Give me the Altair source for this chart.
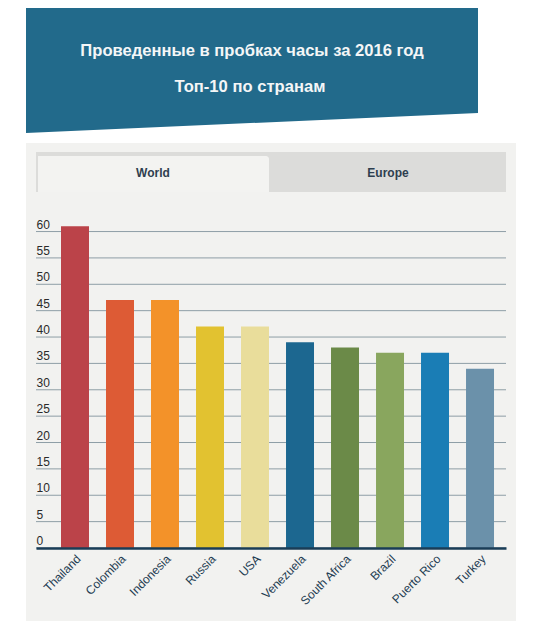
import altair as alt
import pandas as pd

# ---- data ----
countries = ["Thailand", "Colombia", "Indonesia", "Russia", "USA",
             "Venezuela", "South Africa", "Brazil", "Puerto Rico", "Turkey"]
hours = [61, 47, 47, 42, 42, 39, 38, 37, 37, 34]
bar_colors = ["#bb4349", "#dd5b35", "#f39229", "#e2c230", "#e9dd9b",
              "#1c6790", "#6b8a48", "#89a65e", "#1a7db5", "#6b91aa"]
y_ticks = [0, 5, 10, 15, 20, 25, 30, 35, 40, 45, 50, 55, 60]
title_lines = ["Проведенные в пробках часы за 2016 год", "Топ-10 по странам"]
tab_labels = ["World", "Europe"]

df = pd.DataFrame({"country": countries, "hours": hours})
grid_df = pd.DataFrame({"tick": y_ticks})
one = alt.Data(values=[{"a": 1}])

FONT = "Liberation Sans, Arial, sans-serif"

yscale = alt.Scale(domain=[0, 62], nice=False, zero=True)
xscale = alt.Scale(paddingInner=0.378, paddingOuter=0.411, align=0.676)

# ---- decorations ----
panel = alt.Chart(one).mark_rect(color="#f2f2f0").encode(
    x=alt.value(-10), x2=alt.value(480), y=alt.value(-78), y2=alt.value(400))
strip = alt.Chart(one).mark_rect(color="#dcdcda").encode(
    x=alt.value(0), x2=alt.value(470), y=alt.value(-69), y2=alt.value(-29))
world_tab = alt.Chart(one).mark_rect(color="#f3f3f1", cornerRadiusTopRight=3).encode(
    x=alt.value(2), x2=alt.value(233), y=alt.value(-65), y2=alt.value(-29))
tab1 = alt.Chart(one).mark_text(text=tab_labels[0], font=FONT, fontSize=12, fontWeight="bold",
                                color="#2e3f4f", align="center", baseline="middle").encode(
    x=alt.value(117), y=alt.value(-48))
tab2 = alt.Chart(one).mark_text(text=tab_labels[1], font=FONT, fontSize=12, fontWeight="bold",
                                color="#2e3f4f", align="center", baseline="middle").encode(
    x=alt.value(352), y=alt.value(-48))

banner = alt.Chart(alt.Data(values=[{"bx": -10, "by": -88, "by2": -230},
                                    {"bx": 442, "by": -108, "by2": -230}])).mark_area(
    color="#226a8b").encode(
    x=alt.X("bx:Q", scale=None, axis=None),
    y=alt.Y("by:Q", scale=None, axis=None),
    y2="by2:Q")
t1 = alt.Chart(one).mark_text(text=title_lines[0], font=FONT, fontSize=16.6, fontWeight="bold",
                              color="#f4f6f7", align="center", baseline="alphabetic").encode(
    x=alt.value(216), y=alt.value(-165))
t2 = alt.Chart(one).mark_text(text=title_lines[1], font=FONT, fontSize=16.6, fontWeight="bold",
                              color="#f4f6f7", align="center", baseline="alphabetic").encode(
    x=alt.value(214), y=alt.value(-129))

grid = alt.Chart(grid_df).mark_rule(color="#8e9ea6", strokeWidth=1).encode(
    y=alt.Y("tick:Q", scale=yscale, axis=None),
    x=alt.value(0), x2=alt.value(470))

bars = alt.Chart(df).mark_bar().encode(
    x=alt.X("country:N", sort=None, scale=xscale,
            axis=alt.Axis(title=None, ticks=False, labelAngle=-45, labelFont=FONT,
                          labelFontSize=12, labelColor="#1e3c52", labelPadding=5,
                          domainColor="#1a3d57", domainWidth=2.5, zindex=1)),
    y=alt.Y("hours:Q", scale=yscale,
            axis=alt.Axis(title=None, ticks=False, tickSize=0, domain=False, grid=False,
                          values=y_ticks, labelAlign="left", labelPadding=0,
                          labelBaseline="alphabetic", labelOffset=-3.5, labelFont=FONT,
                          labelFontSize=12, labelColor="#2a2a2a", labelFlush=False,
                          zindex=1)),
    color=alt.Color("country:N", scale=alt.Scale(domain=countries, range=bar_colors),
                    legend=None))

chart = alt.layer(panel, strip, world_tab, tab1, tab2, banner, t1, t2, grid, bars).resolve_scale(
    x="independent", y="independent"
).properties(
    width=470, height=327,
    autosize=alt.AutoSizeParams(type="none"),
    padding={"left": 28, "top": 213, "right": 20, "bottom": 75},
    background="white",
).configure_view(stroke=None)

chart.save("out.html", embed_options={"renderer": "svg", "actions": False})
